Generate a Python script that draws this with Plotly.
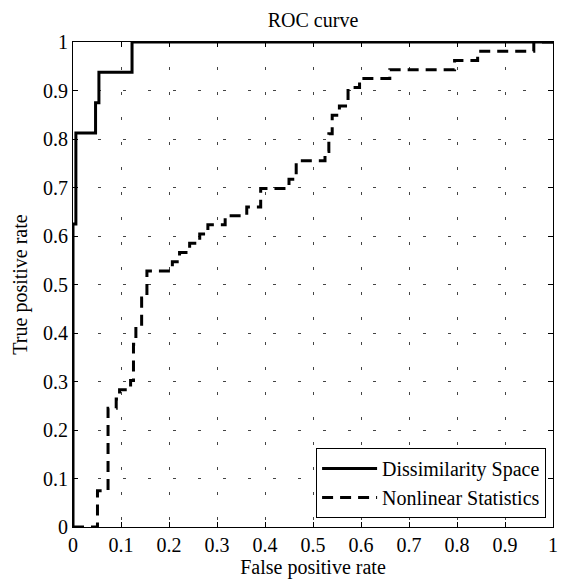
import plotly.graph_objects as go

# Step corners (line_shape='hv': go horizontally to x, then up to y)
ds_fpr = [0, 0, 0.006, 0.047, 0.054, 0.123, 1.0]
ds_tpr = [0, 0.625, 0.8125, 0.875, 0.9375, 1.0, 1.0]

nl_fpr = [0, 0.051, 0.073, 0.090, 0.097, 0.120, 0.126, 0.131, 0.143, 0.154,
          0.207, 0.222, 0.243, 0.264, 0.281, 0.317, 0.362, 0.391, 0.450, 0.465,
          0.525, 0.533, 0.540, 0.555, 0.573, 0.597, 0.660, 0.795, 0.843, 0.960, 1.0]
nl_tpr = [0, 0.075, 0.245, 0.264, 0.283, 0.302, 0.377, 0.415, 0.472, 0.528,
          0.547, 0.566, 0.585, 0.604, 0.623, 0.642, 0.660, 0.698, 0.717, 0.755,
          0.774, 0.811, 0.849, 0.868, 0.906, 0.925, 0.943, 0.962, 0.981, 1.0, 1.0]

tick_vals = [0, 0.1, 0.2, 0.3, 0.4, 0.5, 0.6, 0.7, 0.8, 0.9, 1]
tick_text = ["0", "0.1", "0.2", "0.3", "0.4", "0.5", "0.6", "0.7", "0.8", "0.9", "1"]

FONT = "'Liberation Serif', 'Times New Roman', 'DejaVu Serif', serif"

fig = go.Figure()
fig.add_trace(go.Scatter(x=ds_fpr, y=ds_tpr, mode="lines", line_shape="hv",
                         name="Dissimilarity Space",
                         line=dict(color="black", width=3)))
fig.add_trace(go.Scatter(x=nl_fpr, y=nl_tpr, mode="lines", line_shape="hv",
                         name="Nonlinear Statistics",
                         line=dict(color="black", width=3, dash="11px,7px")))

axis_common = dict(
    range=[0, 1], tickvals=tick_vals, ticktext=tick_text,
    showline=True, linecolor="black", linewidth=1, mirror="ticks",
    ticks="inside", ticklen=5, tickcolor="black", tickwidth=1,
    showgrid=True, gridcolor="#444", gridwidth=1, griddash="3px,22px",
    zeroline=False, tickfont=dict(family=FONT, size=20, color="black"),
)

fig.update_layout(
    width=564, height=579,
    margin=dict(l=73, r=6, t=42, b=52),
    paper_bgcolor="white", plot_bgcolor="white",
    font=dict(family=FONT, color="black"),
    title=dict(text="ROC curve", x=0.5, xref="paper", y=1 - 20 / 579, yref="container",
               xanchor="center", yanchor="middle",
               font=dict(family=FONT, size=20, color="black")),
    xaxis=dict(**axis_common,
               title=dict(text="False positive rate", standoff=0,
                          font=dict(family=FONT, size=20, color="black"))),
    yaxis=dict(**axis_common,
               title=dict(text="True positive rate", standoff=10,
                          font=dict(family=FONT, size=20, color="black"))),
    legend=dict(x=0.9856, y=0.0186, xanchor="right", yanchor="bottom",
                bgcolor="white", bordercolor="black", borderwidth=1,
                font=dict(family=FONT, size=20, color="black"),
                itemwidth=55, tracegroupgap=0),
)

fig.write_html("out.html")
